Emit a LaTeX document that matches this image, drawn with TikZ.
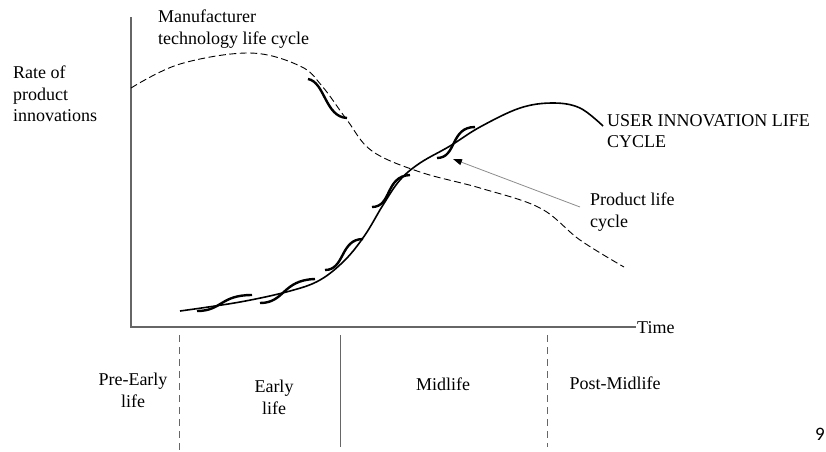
\documentclass[tikz,border=0pt]{standalone}
\usepackage{fontspec}
\setmainfont{Liberation Serif}
\newfontfamily\numfont{Carlito}
\usetikzlibrary{arrows.meta}
\begin{document}
\begin{tikzpicture}[x=1pt,y=-1pt,
  lbl/.style={font=\fontsize{18}{21.5}\selectfont, inner sep=0pt, align=left, anchor=north west},
  clbl/.style={font=\fontsize{18}{21.5}\selectfont, inner sep=0pt, align=center, anchor=north},
  axis/.style={draw=black!60, line width=1.2pt},
  divider/.style={draw=black!60, line width=1pt},
  dashdiv/.style={draw=black!60, line width=1pt, dash pattern=on 7pt off 5pt},
  mfr/.style={draw=black, line width=0.9pt, dash pattern=on 7pt off 3.5pt},
  user/.style={draw=black, line width=1.6pt},
  wig/.style={draw=black, line width=2.4pt},
  pointer/.style={draw=black!45, line width=0.8pt, -{Triangle[length=9pt,width=6pt,fill=black,color=black]}}
]
\useasboundingbox (0,0) rectangle (826,451);

% axes
\coordinate (ytop) at (131,17);
\coordinate (origin) at (131,327);
\coordinate (xend) at (636,327);
\draw[axis] (ytop) -- (origin) -- (xend);
\node[lbl, anchor=base west] (time) at (637,333) {Time};

% phase dividers
\coordinate (d1t) at (179,335); \coordinate (d1b) at (179,451);
\coordinate (d2t) at (340,335); \coordinate (d2b) at (340,447);
\coordinate (d3t) at (547,335); \coordinate (d3b) at (547,447);
\draw[dashdiv] (d1t) -- (d1b);
\draw[divider] (d2t) -- (d2b);
\draw[dashdiv] (d3t) -- (d3b);

% labels
\node[lbl] (rate) at (13,66) {Rate of\\product\\innovations};
\node[lbl] (mtlc) at (158,10) {Manufacturer\\technology life cycle};
\node[lbl] (uilc) at (607,114) {USER INNOVATION LIFE\\CYCLE};
\node[lbl] (plc) at (590,193) {Product life\\cycle};
\node[clbl] (pre) at (133,373) {Pre-Early\\life};
\node[clbl] (early) at (274,380) {Early\\life};
\node[clbl] (mid) at (443,378) {Midlife};
\node[clbl] (post) at (615,377) {Post-Midlife};
\node[inner sep=0pt, font=\numfont\fontsize{19}{22}\selectfont] (page) at (820,434) {9};

% manufacturer technology life cycle (dashed)
\draw[mfr] plot[smooth, tension=0.6] coordinates {(131,88) (180,64) (250,53) (300,66) (322,86) (347,120) (372,151) (420,172) (480,188) (540,208) (580,240) (624,267)};

% user innovation life cycle (solid)
\draw[user] plot[smooth, tension=0.6] coordinates {(180,311) (240,302) (290,291) (320,280) (345,260) (365,235) (383,205) (400,180) (420,163) (450,146) (480,127) (520,108) (553,103) (580,108) (603,126)};

% product life cycles (thick S-curves)
\draw[wig] (197,311) .. controls (222,311) and (220,295) .. (252,295);
\draw[wig] (260,303) .. controls (285,303) and (282,280) .. (315,279);
\draw[wig] (325,270) .. controls (345,270) and (340,239) .. (363,239);
\draw[wig] (372,207) .. controls (392,207) and (385,176) .. (410,175);
\draw[wig] (437,158) .. controls (457,158) and (450,127) .. (475,127);
\draw[wig] (308,79) .. controls (325,82) and (325,117) .. (347,118);

% pointer
\coordinate (ptr) at (580,207);
\coordinate (ptrtip) at (453,159);
\draw[pointer] (ptr) -- (ptrtip);
\end{tikzpicture}
\end{document}
